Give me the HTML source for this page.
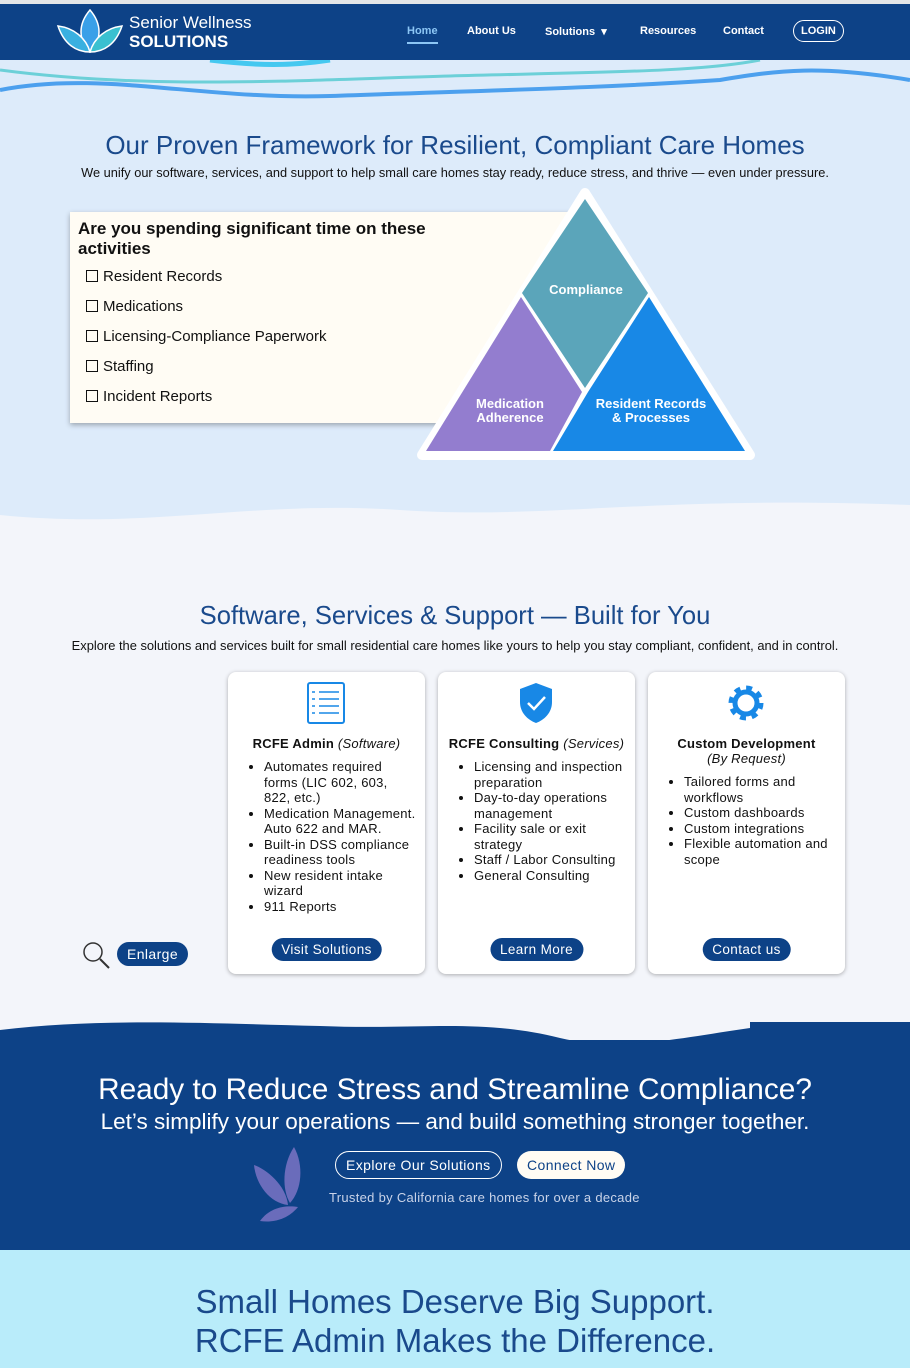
<!DOCTYPE html>
<html><head><meta charset="utf-8"><style>
*{margin:0;padding:0;box-sizing:border-box}
body{width:910px;height:1368px;overflow:hidden;font-family:"Liberation Sans",sans-serif;background:#f3f5fa;position:relative;color:#111}
.abs{position:absolute}
.nav a{position:absolute;top:25px;color:#fff;font-size:11px;font-weight:bold;text-decoration:none}
.card{position:absolute;top:672px;width:197px;height:302px;background:#fff;border-radius:8px;box-shadow:0 1px 4px rgba(0,0,0,.3);font-size:13px;letter-spacing:.25px}
.card h4{text-align:center;font-size:13px;margin-top:0}
.card ul{margin:8px 0 0 36px;line-height:15.5px;padding-right:8px}
.btn{position:absolute;background:#0d4287;color:#fff;border-radius:14px;font-size:13.5px;padding:4px 10px;left:50%;transform:translateX(-50%);top:266px;white-space:nowrap;letter-spacing:.4px}
.chk{font-size:15px;position:absolute;left:86px}
.chk:before{content:"";display:inline-block;width:10px;height:10px;border:1.5px solid #111;margin-right:5px;vertical-align:-1px}
</style></head><body>
<div class="abs" style="left:0;top:0;width:910px;height:4px;background:#e3e6e8"></div>
<div class="abs" style="left:0;top:4px;width:910px;height:56px;background:#0d4287"></div>
<svg class="abs" style="left:56px;top:8px" width="68" height="46" viewBox="0 0 68 46">
<path d="M34 2 C22 16 22 32 34 44 C46 32 46 16 34 2Z" fill="#3aa0e8" stroke="#fff" stroke-width="1.5"/>
<path d="M2 18 C8 36 20 44 34 44 C30 30 18 20 2 18Z" fill="#3ab0e0" stroke="#fff" stroke-width="1.5"/>
<path d="M66 18 C60 36 48 44 34 44 C38 30 50 20 66 18Z" fill="#3ac0d0" stroke="#fff" stroke-width="1.5"/></svg>
<div class="abs" style="left:129px;top:13px;color:#fff;font-size:17px;line-height:19px">Senior Wellness<br><b>SOLUTIONS</b></div>
<div class="nav">
<a style="left:407px;color:#8cc6f5;border-bottom:2px solid #8cc6f5;padding-bottom:5px">Home</a>
<a style="left:467px">About Us</a><a style="left:545px">Solutions &nbsp;▾</a>
<a style="left:640px">Resources</a><a style="left:723px">Contact</a>
<a style="left:793px;top:20px;border:1.5px solid #fff;border-radius:12px;padding:4px 7px">LOGIN</a></div>
<div class="abs" style="left:0;top:60px;width:910px;height:460px;background:#ddebfa"></div>
<svg class="abs" style="left:0;top:60px" width="910" height="50">
<path d="M210 0 C260 6 290 6 330 0" stroke="#45c8f0" stroke-width="5" fill="none"/>
<path d="M0 10 C150 30 300 20 450 16 C600 12 700 12 760 0" stroke="#6cd0d8" stroke-width="3" fill="none"/>
<path d="M0 30 C100 10 200 40 330 36 C500 30 600 28 720 20 C780 10 820 5 910 20" stroke="#4ca0ee" stroke-width="4" fill="none"/></svg>
<svg class="abs" style="left:0;top:480px" width="910" height="50"><path d="M0 35 C150 50 250 20 400 30 C550 40 650 15 910 25 L910 50 L0 50Z" fill="#f3f5fa"/></svg>
<div class="abs" style="left:0;width:910px;top:130px;text-align:center;color:#1a4a8c;font-size:26px">Our Proven Framework for Resilient, Compliant Care Homes</div>
<div class="abs" style="left:0;width:910px;top:165px;text-align:center;font-size:12.8px">We unify our software, services, and support to help small care homes stay ready, reduce stress, and thrive — even under pressure.</div>
<div class="abs" style="left:70px;top:212px;width:520px;height:211px;background:#fffcf4;box-shadow:0 2px 5px rgba(0,0,0,.3)"></div>
<div class="abs" style="left:78px;top:219px;font-size:17px;line-height:20px;font-weight:bold">Are you spending significant time on these<br>activities</div>
<div class="chk" style="top:268px">Resident Records</div>
<div class="chk" style="top:298px">Medications</div>
<div class="chk" style="top:328px">Licensing-Compliance Paperwork</div>
<div class="chk" style="top:358px">Staffing</div>
<div class="chk" style="top:388px">Incident Reports</div>
<svg class="abs" style="left:410px;top:185px" width="350" height="280">
<path d="M175 8 L340 270 L12 270Z" fill="#fff" stroke="#fff" stroke-width="10" stroke-linejoin="round"/>
<path d="M175 14 L238 108 L175 203 L112 108Z" fill="#5ba5ba"/>
<path d="M111 112 L172 207 L140 266 L16 266Z" fill="#937dcf"/>
<path d="M239 112 L335 266 L143 266 L178 207Z" fill="#1888e6"/>
<g fill="#fff" font-weight="bold" font-size="13" text-anchor="middle">
<text x="176" y="109">Compliance</text>
<text x="100" y="223">Medication</text><text x="100" y="237">Adherence</text>
<text x="241" y="223">Resident Records</text><text x="241" y="237">&amp; Processes</text></g></svg>
<div class="abs" style="left:0;width:910px;top:602px;text-align:center;color:#1a4a8c;font-size:25.6px">Software, Services &amp; Support — Built for You</div>
<div class="abs" style="left:0;width:910px;top:638px;text-align:center;font-size:12.9px">Explore the solutions and services built for small residential care homes like yours to help you stay compliant, confident, and in control.</div>
<svg class="abs" style="left:80px;top:940px" width="32" height="30"><circle cx="13" cy="12" r="9" fill="none" stroke="#333" stroke-width="1.5"/><line x1="20" y1="19" x2="29" y2="28" stroke="#333" stroke-width="2"/></svg>
<div class="abs" style="left:117px;top:942px;background:#0d4287;color:#fff;border-radius:13px;padding:4px 10px;font-size:14px;letter-spacing:.4px">Enlarge</div>
<div class="card" style="left:228px">
<svg class="abs" style="left:79px;top:10px" width="38" height="42"><rect x="1" y="1" width="36" height="40" rx="2" fill="none" stroke="#1888e6" stroke-width="2"/><g stroke="#1888e6" stroke-width="1.5"><line x1="12" y1="10" x2="32" y2="10"/><line x1="12" y1="17" x2="32" y2="17"/><line x1="12" y1="24" x2="32" y2="24"/><line x1="12" y1="31" x2="32" y2="31"/><line x1="5" y1="10" x2="8" y2="10"/><line x1="5" y1="17" x2="8" y2="17"/><line x1="5" y1="24" x2="8" y2="24"/><line x1="5" y1="31" x2="8" y2="31"/></g></svg>
<h4 style="padding-top:64px">RCFE Admin <i style="font-weight:normal">(Software)</i></h4>
<ul><li>Automates required forms (LIC 602, 603, 822, etc.)</li><li>Medication Management. Auto 622 and MAR.</li><li>Built-in DSS compliance readiness tools</li><li>New resident intake wizard</li><li>911 Reports</li></ul>
<div class="btn">Visit Solutions</div></div>
<div class="card" style="left:438px">
<svg class="abs" style="left:81px;top:10px" width="34" height="42"><path d="M17 1 L33 7 L33 20 C33 31 25 38 17 41 C9 38 1 31 1 20 L1 7Z" fill="#1888e6"/><path d="M9 21 L15 27 L26 15" stroke="#fff" stroke-width="2.5" fill="none"/></svg>
<h4 style="padding-top:64px">RCFE Consulting <i style="font-weight:normal">(Services)</i></h4>
<ul><li>Licensing and inspection preparation</li><li>Day-to-day operations management</li><li>Facility sale or exit strategy</li><li>Staff / Labor Consulting</li><li>General Consulting</li></ul>
<div class="btn">Learn More</div></div>
<div class="card" style="left:648px">
<svg class="abs" style="left:77px;top:10px" width="42" height="42"><circle cx="21" cy="21" r="14" fill="none" stroke="#1888e6" stroke-width="7" stroke-dasharray="5.5 5.5"/><circle cx="21" cy="21" r="11" fill="none" stroke="#1888e6" stroke-width="5"/></svg>
<h4 style="padding-top:64px">Custom Development<br><i style="font-weight:normal">(By Request)</i></h4>
<ul><li>Tailored forms and workflows</li><li>Custom dashboards</li><li>Custom integrations</li><li>Flexible automation and scope</li></ul>
<div class="btn">Contact us</div></div>
<div class="abs" style="left:0;top:1040px;width:910px;height:210px;background:#0d4287"></div>
<svg class="abs" style="left:0;top:1018px" width="910" height="40"><path d="M0 12 C100 0 200 5 320 8 C420 12 480 0 560 20 C620 34 680 20 750 10 L750 4 L910 4 L910 40 L0 40Z" fill="#0d4287"/></svg>
<div class="abs" style="left:0;width:910px;top:1073px;text-align:center;color:#fff;font-size:29.8px">Ready to Reduce Stress and Streamline Compliance?</div>
<div class="abs" style="left:0;width:910px;top:1109px;text-align:center;color:#fff;font-size:22.5px">Let’s simplify your operations — and build something stronger together.</div>
<svg class="abs" style="left:252px;top:1145px" width="70" height="78" fill="#6a6cbb"><path d="M42 2 C30 20 30 45 38 58 C50 45 52 20 42 2Z"/><path d="M2 20 C14 24 34 40 36 60 C18 58 4 40 2 20Z"/><path d="M8 76 C18 62 34 60 46 62 C36 74 22 78 8 76Z"/></svg>
<div class="abs" style="left:335px;top:1151px;border:1.5px solid #fff;border-radius:15px;color:#fff;font-size:14px;padding:5px 10px;letter-spacing:.4px">Explore Our Solutions</div>
<div class="abs" style="left:517px;top:1151px;background:#fffcf4;border-radius:15px;color:#0d4287;font-size:14px;padding:6px 10px;letter-spacing:.4px">Connect Now</div>
<div class="abs" style="left:329px;top:1190px;color:#c9d3e8;font-size:13px;letter-spacing:.3px">Trusted by California care homes for over a decade</div>
<div class="abs" style="left:0;top:1250px;width:910px;height:118px;background:#b9ecfa"></div>
<div class="abs" style="left:0;width:910px;top:1282px;text-align:center;color:#1a4a8c;font-size:33px;line-height:39px">Small Homes Deserve Big Support.<br>RCFE Admin Makes the Difference.</div>
</body></html>
